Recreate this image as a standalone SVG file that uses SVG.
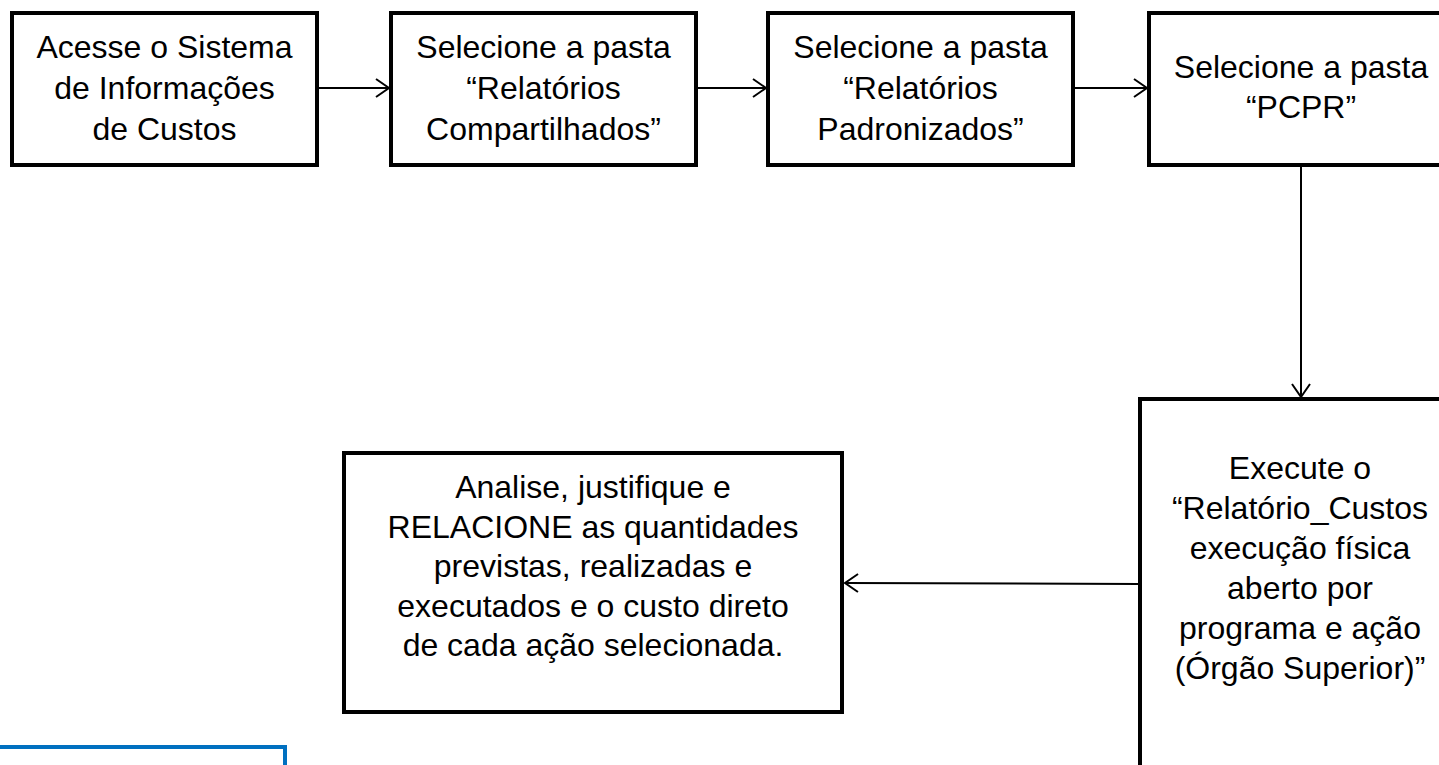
<svg xmlns="http://www.w3.org/2000/svg" width="1439" height="765" viewBox="0 0 1439 765">
<style>
  .box { fill: #ffffff; stroke: #000000; stroke-width: 4; }
  .blue { fill: none; stroke: #0070C0; stroke-width: 4; }
  .t { font-family: "Liberation Sans", Arial, sans-serif; font-size: 32px; fill: #000000; text-anchor: middle; }
  .c { stroke: #000000; stroke-width: 2; fill: none; }
</style>
<defs>
  <marker id="arr" viewBox="-15 -11 17 22" refX="0" refY="0" markerWidth="17" markerHeight="22" markerUnits="userSpaceOnUse" orient="auto">
    <path d="M-13,-9 L0,0 L-13,9" fill="none" stroke="#000000" stroke-width="2"/>
  </marker>
</defs>
<rect width="1439" height="765" fill="#ffffff"/>
<g id="connectors">
  <line class="c" x1="317" y1="88" x2="389" y2="88" marker-end="url(#arr)"/>
  <line class="c" x1="696" y1="88" x2="766" y2="88" marker-end="url(#arr)"/>
  <line class="c" x1="1073" y1="88" x2="1147" y2="88" marker-end="url(#arr)"/>
  <line class="c" x1="1301" y1="165" x2="1301" y2="397" marker-end="url(#arr)"/>
  <line class="c" x1="1140" y1="584" x2="845" y2="583" marker-end="url(#arr)"/>
</g>
<g id="node1">
  <rect class="box" x="12" y="13" width="305" height="152"/>
  <text class="t" x="164.5" y="58">Acesse o Sistema</text>
  <text class="t" x="164.5" y="99">de Informações</text>
  <text class="t" x="164.5" y="140">de Custos</text>
</g>
<g id="node2">
  <rect class="box" x="391" y="13" width="305" height="152"/>
  <text class="t" x="543.5" y="58">Selecione a pasta</text>
  <text class="t" x="543.5" y="99">“Relatórios</text>
  <text class="t" x="543.5" y="140">Compartilhados”</text>
</g>
<g id="node3">
  <rect class="box" x="768" y="13" width="305" height="152"/>
  <text class="t" x="920.5" y="58">Selecione a pasta</text>
  <text class="t" x="920.5" y="99">“Relatórios</text>
  <text class="t" x="920.5" y="140">Padronizados”</text>
</g>
<g id="node4">
  <rect class="box" x="1149" y="13" width="320" height="152"/>
  <text class="t" x="1301" y="78">Selecione a pasta</text>
  <text class="t" x="1301" y="118">“PCPR”</text>
</g>
<g id="node5">
  <rect class="box" x="1140" y="399" width="320" height="400"/>
  <text class="t" x="1300" y="479">Execute o</text>
  <text class="t" x="1300" y="519">“Relatório_Custos</text>
  <text class="t" x="1300" y="559">execução física</text>
  <text class="t" x="1300" y="599">aberto por</text>
  <text class="t" x="1300" y="639">programa e ação</text>
  <text class="t" x="1300" y="679">(Órgão Superior)”</text>
</g>
<g id="node6">
  <rect class="box" x="344" y="453" width="498" height="259"/>
  <text class="t" x="593" y="498">Analise, justifique e</text>
  <text class="t" x="593" y="538">RELACIONE as quantidades</text>
  <text class="t" x="593" y="577">previstas, realizadas e</text>
  <text class="t" x="593" y="617">executados e o custo direto</text>
  <text class="t" x="593" y="656">de cada ação selecionada.</text>
</g>
<g id="node7">
  <rect class="blue" x="-20" y="747" width="305" height="80"/>
</g>
</svg>
